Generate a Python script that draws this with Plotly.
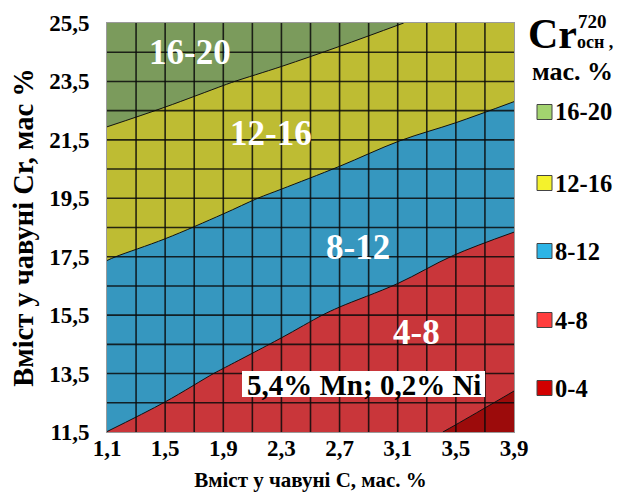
import plotly.graph_objects as go

# ---------------- data ----------------
c_values = [1.1, 1.5, 1.9, 2.3, 2.7, 3.1, 3.5, 3.9]          # C, mass %
cr_values = [11.5, 13.5, 15.5, 17.5, 19.5, 21.5, 23.5, 25.5]   # Cr, mass %
# Cr(720) in matrix, rows follow cr_values, columns follow c_values
cr720_row_11_5 = [7.99, 7.32, 6.58, 5.95, 5.29, 4.59, 3.83, 3.04]
cr720_row_13_5 = [9.36, 8.64, 7.87, 7.18, 6.53, 5.90, 5.19, 4.41]
cr720_row_15_5 = [10.71, 10.06, 9.35, 8.52, 7.78, 7.21, 6.56, 5.86]
cr720_row_17_5 = [12.09, 11.49, 10.85, 10.12, 9.37, 8.67, 7.93, 7.31]
cr720_row_19_5 = [13.83, 13.15, 12.42, 11.71, 11.02, 10.36, 9.67, 8.95]
cr720_row_21_5 = [15.57, 14.94, 14.27, 13.56, 12.81, 12.05, 11.43, 10.77]
cr720_row_23_5 = [17.50, 16.83, 16.13, 15.47, 14.77, 14.06, 13.37, 12.65]
cr720_row_25_5 = [19.50, 18.88, 18.23, 17.54, 16.82, 16.07, 15.39, 14.68]
cr720 = [cr720_row_11_5, cr720_row_13_5, cr720_row_15_5, cr720_row_17_5,
         cr720_row_19_5, cr720_row_21_5, cr720_row_23_5, cr720_row_25_5]

x_ticktext = ["1,1", "1,5", "1,9", "2,3", "2,7", "3,1", "3,5", "3,9"]
y_ticktext = ["11,5", "13,5", "15,5", "17,5", "19,5", "21,5", "23,5", "25,5"]

band_labels = ["16-20", "12-16", "8-12", "4-8", "0-4"]
band_fill = ["#7b9b5c", "#bebc33", "#3697bf", "#c9363a", "#9c0b0b"]
band_legend = ["#a3d36f", "#f4f22c", "#2cb4e6", "#ff3d3d", "#d20000"]

# cell grid of the surface chart
cell_c = [1.1, 1.3, 1.5, 1.7, 1.9, 2.1, 2.3, 2.5, 2.7, 2.9, 3.1, 3.3, 3.5, 3.7, 3.9]
cell_cr = [11.5, 12.5, 13.5, 14.5, 15.5, 16.5, 17.5, 18.5, 19.5, 20.5,
           21.5, 22.5, 23.5, 24.5, 25.5]

# region labels
region_text = ["16-20", "12-16", "8-12", "4-8"]
region_c = [1.67, 2.23, 2.83, 3.23]
region_cr = [24.5, 21.73, 17.83, 14.92]

FONT = "Liberation Serif, Times New Roman, serif"
OFF = 8                       # page body margin of the browser
W, H = 622 - OFF, 504 - 2 * OFF
L, T = 107 - OFF, 23 - OFF    # plot area left / top in figure pixels
R = W - (514 - OFF)
B = H - (432 - OFF)
PW, PH = W - L - R, H - T - B


def px(xp):
    """screenshot x pixel -> paper"""
    return (xp - OFF - L) / PW


def py(yp):
    """screenshot y pixel -> paper"""
    return 1 - (yp - OFF - T) / PH


# ---------------- figure ----------------
low_to_high = band_fill[::-1]
cs = []
edges = [0, 0.125, 0.375, 0.625, 0.875, 1]
for i, col in enumerate(low_to_high):
    cs.append([edges[i], col])
    cs.append([edges[i + 1], col])

fig = go.Figure()
fig.add_trace(go.Contour(
    x=c_values, y=cr_values, z=cr720,
    contours=dict(start=4, end=16, size=4, coloring="fill", showlabels=False),
    colorscale=cs, showscale=False,
    line=dict(color="#111111", width=1),
    hoverinfo="skip",
))

shapes = []
for c in cell_c[1:-1]:
    shapes.append(dict(type="line", xref="x", yref="y", x0=c, x1=c,
                       y0=cell_cr[0], y1=cell_cr[-1], layer="above",
                       line=dict(color="rgba(10,10,10,0.85)", width=1.6)))
for cr in cell_cr[1:-1]:
    shapes.append(dict(type="line", xref="x", yref="y", y0=cr, y1=cr,
                       x0=cell_c[0], x1=cell_c[-1], layer="above",
                       line=dict(color="rgba(10,10,10,0.85)", width=1.6)))
# white box behind the composition note
shapes.append(dict(type="rect", xref="paper", yref="paper",
                   x0=px(242), x1=px(485), y0=py(397), y1=py(371),
                   fillcolor="white", line=dict(width=0), layer="above"))

annotations = []
for t, xc, yc in zip(region_text, region_c, region_cr):
    annotations.append(dict(x=xc, y=yc, xref="x", yref="y", text=t, showarrow=False,
                            font=dict(family=FONT, size=35, color="white", weight="bold")))
annotations.append(dict(x=px(364), y=py(385), xref="paper", yref="paper",
                        text="5,4% Mn; 0,2% Ni", showarrow=False,
                        xanchor="center", yanchor="middle",
                        font=dict(family=FONT, size=29, color="black", weight="bold")))

# legend title
annotations.append(dict(x=px(552), y=py(34), xref="paper", yref="paper", text="Cr",
                        showarrow=False, xanchor="center", yanchor="middle",
                        font=dict(family=FONT, size=42, color="black", weight="bold")))
annotations.append(dict(x=px(576), y=py(21), xref="paper", yref="paper", text="720",
                        showarrow=False, xanchor="left", yanchor="middle",
                        font=dict(family=FONT, size=19, color="black", weight="bold")))
annotations.append(dict(x=px(575), y=py(42), xref="paper", yref="paper", text="осн ,",
                        showarrow=False, xanchor="left", yanchor="middle",
                        font=dict(family=FONT, size=18, color="black", weight="bold")))
annotations.append(dict(x=px(572), y=py(72), xref="paper", yref="paper", text="мас. %",
                        showarrow=False, xanchor="center", yanchor="middle",
                        font=dict(family=FONT, size=26, color="black", weight="bold")))

legend_y = [112, 183, 251, 320, 388]
for lab, col, yc in zip(band_labels, band_legend, legend_y):
    shapes.append(dict(type="rect", xref="paper", yref="paper",
                       x0=px(537), x1=px(552), y0=py(yc + 7.5), y1=py(yc - 7.5),
                       fillcolor=col, line=dict(color="#444444", width=1), layer="above"))
    annotations.append(dict(x=px(553), y=py(yc), xref="paper", yref="paper", text=lab,
                            showarrow=False, xanchor="left", yanchor="middle",
                            font=dict(family=FONT, size=24.5, color="black", weight="bold")))

tickfont = dict(family=FONT, size=23, color="black", weight="bold")

fig.update_layout(
    width=W, height=H,
    margin=dict(l=L, r=R, t=T, b=B, autoexpand=False),
    paper_bgcolor="white", plot_bgcolor="white",
    showlegend=False,
    shapes=shapes, annotations=annotations,
    xaxis=dict(range=[1.1, 3.9], tickvals=c_values, ticktext=x_ticktext,
               showgrid=False, zeroline=False, showline=True, mirror=True,
               linecolor="#9a9a9a", linewidth=1, ticks="", tickfont=tickfont,
               ticklabelstandoff=-5,
               title=dict(text="Вміст у чавуні С, мас. %", standoff=12,
                          font=dict(family=FONT, size=21, color="black", weight="bold"))),
    yaxis=dict(range=[11.5, 25.5], tickvals=cr_values, ticktext=y_ticktext,
               showgrid=False, zeroline=False, showline=True, mirror=True,
               linecolor="#9a9a9a", linewidth=1, ticks="", tickfont=tickfont,
               ticklabelstandoff=12,
               title=dict(text="Вміст у чавуні Cr, мас %", standoff=8,
                          font=dict(family=FONT, size=28.5, color="black", weight="bold"))),
)

fig.write_html("out.html")
